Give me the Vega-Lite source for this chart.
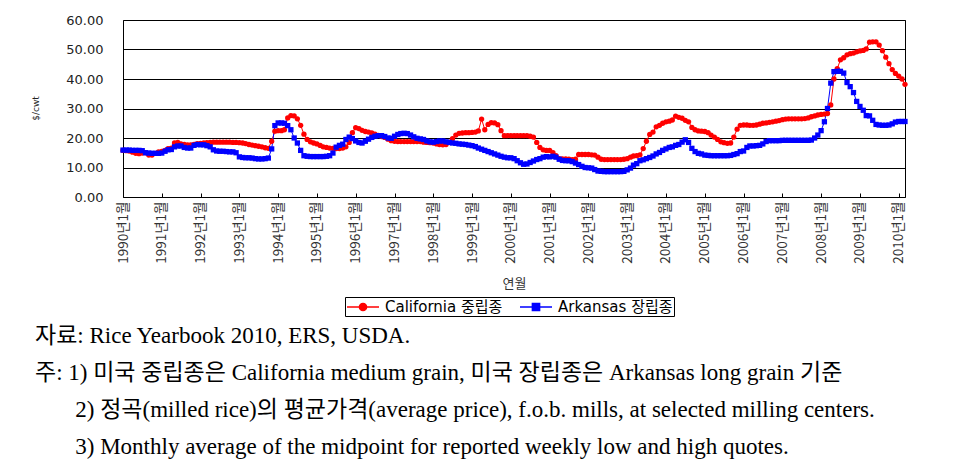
{
"$schema":"https://vega.github.io/schema/vega-lite/v6.json",
"width":782,"height":177,
"autosize":{"type":"none"},
"padding":{"left":123,"top":20,"right":54,"bottom":269},
"background":"white",
"config":{"view":{"stroke":"black","strokeWidth":1}},
"title":{"text":["자료: Rice Yearbook 2010, ERS, USDA.","주: 1) 미국 중립종은 California medium grain, 미국 장립종은 Arkansas long grain 기준","\u200b\u00a0\u00a0\u00a0\u00a0\u00a0\u00a0\u00a02) 정곡(milled rice)의 평균가격(average price), f.o.b. mills, at selected milling centers.","\u200b\u00a0\u00a0\u00a0\u00a0\u00a0\u00a0\u00a03) Monthly average of the midpoint for reported weekly low and high quotes."],
"orient":"bottom","anchor":"start","frame":"group","dx":-88,"offset":8,"font":"Liberation Serif, Noto Sans CJK KR","fontSize":23,"fontWeight":"normal","color":"black","lineHeight":37},
"data":{"values":[
{"month":"1990-01","series":"California 중립종","price":15.8},{"month":"1990-02","series":"California 중립종","price":15.7},{"month":"1990-03","series":"California 중립종","price":15.6},{"month":"1990-04","series":"California 중립종","price":15.2},{"month":"1990-05","series":"California 중립종","price":14.8},{"month":"1990-06","series":"California 중립종","price":14.7},{"month":"1990-07","series":"California 중립종","price":14.9},{"month":"1990-08","series":"California 중립종","price":15.0},{"month":"1990-09","series":"California 중립종","price":14.2},{"month":"1990-10","series":"California 중립종","price":14.2},{"month":"1990-11","series":"California 중립종","price":14.8},{"month":"1990-12","series":"California 중립종","price":15.3},
{"month":"1991-01","series":"California 중립종","price":15.5},{"month":"1991-02","series":"California 중립종","price":15.8},{"month":"1991-03","series":"California 중립종","price":16.4},{"month":"1991-04","series":"California 중립종","price":16.6},{"month":"1991-05","series":"California 중립종","price":18.3},{"month":"1991-06","series":"California 중립종","price":18.5},{"month":"1991-07","series":"California 중립종","price":18.0},{"month":"1991-08","series":"California 중립종","price":17.8},{"month":"1991-09","series":"California 중립종","price":17.7},{"month":"1991-10","series":"California 중립종","price":17.7},{"month":"1991-11","series":"California 중립종","price":17.8},{"month":"1991-12","series":"California 중립종","price":18.1},
{"month":"1992-01","series":"California 중립종","price":18.2},{"month":"1992-02","series":"California 중립종","price":18.3},{"month":"1992-03","series":"California 중립종","price":18.4},{"month":"1992-04","series":"California 중립종","price":18.5},{"month":"1992-05","series":"California 중립종","price":18.6},{"month":"1992-06","series":"California 중립종","price":18.6},{"month":"1992-07","series":"California 중립종","price":18.6},{"month":"1992-08","series":"California 중립종","price":18.6},{"month":"1992-09","series":"California 중립종","price":18.6},{"month":"1992-10","series":"California 중립종","price":18.6},{"month":"1992-11","series":"California 중립종","price":18.5},{"month":"1992-12","series":"California 중립종","price":18.5},
{"month":"1993-01","series":"California 중립종","price":18.4},{"month":"1993-02","series":"California 중립종","price":18.3},{"month":"1993-03","series":"California 중립종","price":18.1},{"month":"1993-04","series":"California 중립종","price":17.8},{"month":"1993-05","series":"California 중립종","price":17.6},{"month":"1993-06","series":"California 중립종","price":17.4},{"month":"1993-07","series":"California 중립종","price":17.2},{"month":"1993-08","series":"California 중립종","price":17.0},{"month":"1993-09","series":"California 중립종","price":16.7},{"month":"1993-10","series":"California 중립종","price":16.5},{"month":"1993-11","series":"California 중립종","price":18.9},{"month":"1993-12","series":"California 중립종","price":22.3},
{"month":"1994-01","series":"California 중립종","price":22.5},{"month":"1994-02","series":"California 중립종","price":22.5},{"month":"1994-03","series":"California 중립종","price":22.8},{"month":"1994-04","series":"California 중립종","price":26.8},{"month":"1994-05","series":"California 중립종","price":27.6},{"month":"1994-06","series":"California 중립종","price":27.5},{"month":"1994-07","series":"California 중립종","price":26.5},{"month":"1994-08","series":"California 중립종","price":24.3},{"month":"1994-09","series":"California 중립종","price":21.3},{"month":"1994-10","series":"California 중립종","price":19.5},{"month":"1994-11","series":"California 중립종","price":18.7},{"month":"1994-12","series":"California 중립종","price":18.3},
{"month":"1995-01","series":"California 중립종","price":18.0},{"month":"1995-02","series":"California 중립종","price":17.5},{"month":"1995-03","series":"California 중립종","price":17.0},{"month":"1995-04","series":"California 중립종","price":16.8},{"month":"1995-05","series":"California 중립종","price":16.6},{"month":"1995-06","series":"California 중립종","price":16.5},{"month":"1995-07","series":"California 중립종","price":16.4},{"month":"1995-08","series":"California 중립종","price":16.4},{"month":"1995-09","series":"California 중립종","price":16.6},{"month":"1995-10","series":"California 중립종","price":17.0},{"month":"1995-11","series":"California 중립종","price":18.5},{"month":"1995-12","series":"California 중립종","price":21.8},
{"month":"1996-01","series":"California 중립종","price":23.5},{"month":"1996-02","series":"California 중립종","price":23.2},{"month":"1996-03","series":"California 중립종","price":22.6},{"month":"1996-04","series":"California 중립종","price":22.2},{"month":"1996-05","series":"California 중립종","price":22.0},{"month":"1996-06","series":"California 중립종","price":21.7},{"month":"1996-07","series":"California 중립종","price":21.3},{"month":"1996-08","series":"California 중립종","price":20.9},{"month":"1996-09","series":"California 중립종","price":20.5},{"month":"1996-10","series":"California 중립종","price":20.2},{"month":"1996-11","series":"California 중립종","price":19.6},{"month":"1996-12","series":"California 중립종","price":19.1},
{"month":"1997-01","series":"California 중립종","price":18.9},{"month":"1997-02","series":"California 중립종","price":18.8},{"month":"1997-03","series":"California 중립종","price":18.8},{"month":"1997-04","series":"California 중립종","price":18.8},{"month":"1997-05","series":"California 중립종","price":18.8},{"month":"1997-06","series":"California 중립종","price":18.8},{"month":"1997-07","series":"California 중립종","price":18.8},{"month":"1997-08","series":"California 중립종","price":18.8},{"month":"1997-09","series":"California 중립종","price":18.8},{"month":"1997-10","series":"California 중립종","price":18.6},{"month":"1997-11","series":"California 중립종","price":18.5},{"month":"1997-12","series":"California 중립종","price":18.4},
{"month":"1998-01","series":"California 중립종","price":18.3},{"month":"1998-02","series":"California 중립종","price":18.0},{"month":"1998-03","series":"California 중립종","price":17.8},{"month":"1998-04","series":"California 중립종","price":17.7},{"month":"1998-05","series":"California 중립종","price":17.8},{"month":"1998-06","series":"California 중립종","price":18.6},{"month":"1998-07","series":"California 중립종","price":19.8},{"month":"1998-08","series":"California 중립종","price":21.0},{"month":"1998-09","series":"California 중립종","price":21.6},{"month":"1998-10","series":"California 중립종","price":21.7},{"month":"1998-11","series":"California 중립종","price":21.8},{"month":"1998-12","series":"California 중립종","price":21.8},
{"month":"1999-01","series":"California 중립종","price":21.9},{"month":"1999-02","series":"California 중립종","price":22.0},{"month":"1999-03","series":"California 중립종","price":22.4},{"month":"1999-04","series":"California 중립종","price":26.4},{"month":"1999-05","series":"California 중립종","price":22.8},{"month":"1999-06","series":"California 중립종","price":24.6},{"month":"1999-07","series":"California 중립종","price":25.2},{"month":"1999-08","series":"California 중립종","price":25.1},{"month":"1999-09","series":"California 중립종","price":24.5},{"month":"1999-10","series":"California 중립종","price":22.5},{"month":"1999-11","series":"California 중립종","price":20.8},{"month":"1999-12","series":"California 중립종","price":20.8},
{"month":"2000-01","series":"California 중립종","price":20.8},{"month":"2000-02","series":"California 중립종","price":20.8},{"month":"2000-03","series":"California 중립종","price":20.8},{"month":"2000-04","series":"California 중립종","price":20.8},{"month":"2000-05","series":"California 중립종","price":20.8},{"month":"2000-06","series":"California 중립종","price":20.8},{"month":"2000-07","series":"California 중립종","price":20.6},{"month":"2000-08","series":"California 중립종","price":20.3},{"month":"2000-09","series":"California 중립종","price":18.5},{"month":"2000-10","series":"California 중립종","price":16.8},{"month":"2000-11","series":"California 중립종","price":16.0},{"month":"2000-12","series":"California 중립종","price":15.8},
{"month":"2001-01","series":"California 중립종","price":15.8},{"month":"2001-02","series":"California 중립종","price":15.0},{"month":"2001-03","series":"California 중립종","price":14.0},{"month":"2001-04","series":"California 중립종","price":13.0},{"month":"2001-05","series":"California 중립종","price":12.9},{"month":"2001-06","series":"California 중립종","price":12.9},{"month":"2001-07","series":"California 중립종","price":12.8},{"month":"2001-08","series":"California 중립종","price":12.7},{"month":"2001-09","series":"California 중립종","price":12.8},{"month":"2001-10","series":"California 중립종","price":14.4},{"month":"2001-11","series":"California 중립종","price":14.4},{"month":"2001-12","series":"California 중립종","price":14.4},
{"month":"2002-01","series":"California 중립종","price":14.4},{"month":"2002-02","series":"California 중립종","price":14.3},{"month":"2002-03","series":"California 중립종","price":14.2},{"month":"2002-04","series":"California 중립종","price":13.5},{"month":"2002-05","series":"California 중립종","price":12.8},{"month":"2002-06","series":"California 중립종","price":12.7},{"month":"2002-07","series":"California 중립종","price":12.7},{"month":"2002-08","series":"California 중립종","price":12.7},{"month":"2002-09","series":"California 중립종","price":12.7},{"month":"2002-10","series":"California 중립종","price":12.7},{"month":"2002-11","series":"California 중립종","price":12.7},{"month":"2002-12","series":"California 중립종","price":12.8},
{"month":"2003-01","series":"California 중립종","price":13.0},{"month":"2003-02","series":"California 중립종","price":13.5},{"month":"2003-03","series":"California 중립종","price":13.9},{"month":"2003-04","series":"California 중립종","price":14.0},{"month":"2003-05","series":"California 중립종","price":14.3},{"month":"2003-06","series":"California 중립종","price":16.4},{"month":"2003-07","series":"California 중립종","price":18.9},{"month":"2003-08","series":"California 중립종","price":21.2},{"month":"2003-09","series":"California 중립종","price":22.0},{"month":"2003-10","series":"California 중립종","price":23.8},{"month":"2003-11","series":"California 중립종","price":24.3},{"month":"2003-12","series":"California 중립종","price":25.0},
{"month":"2004-01","series":"California 중립종","price":25.5},{"month":"2004-02","series":"California 중립종","price":25.7},{"month":"2004-03","series":"California 중립종","price":26.1},{"month":"2004-04","series":"California 중립종","price":27.4},{"month":"2004-05","series":"California 중립종","price":27.0},{"month":"2004-06","series":"California 중립종","price":26.7},{"month":"2004-07","series":"California 중립종","price":26.0},{"month":"2004-08","series":"California 중립종","price":25.5},{"month":"2004-09","series":"California 중립종","price":23.6},{"month":"2004-10","series":"California 중립종","price":22.8},{"month":"2004-11","series":"California 중립종","price":22.4},{"month":"2004-12","series":"California 중립종","price":22.3},
{"month":"2005-01","series":"California 중립종","price":22.2},{"month":"2005-02","series":"California 중립종","price":21.8},{"month":"2005-03","series":"California 중립종","price":21.0},{"month":"2005-04","series":"California 중립종","price":20.3},{"month":"2005-05","series":"California 중립종","price":19.5},{"month":"2005-06","series":"California 중립종","price":18.7},{"month":"2005-07","series":"California 중립종","price":18.4},{"month":"2005-08","series":"California 중립종","price":18.2},{"month":"2005-09","series":"California 중립종","price":18.3},{"month":"2005-10","series":"California 중립종","price":20.3},{"month":"2005-11","series":"California 중립종","price":23.0},{"month":"2005-12","series":"California 중립종","price":24.3},
{"month":"2006-01","series":"California 중립종","price":24.4},{"month":"2006-02","series":"California 중립종","price":24.4},{"month":"2006-03","series":"California 중립종","price":24.3},{"month":"2006-04","series":"California 중립종","price":24.3},{"month":"2006-05","series":"California 중립종","price":24.4},{"month":"2006-06","series":"California 중립종","price":24.7},{"month":"2006-07","series":"California 중립종","price":25.0},{"month":"2006-08","series":"California 중립종","price":25.1},{"month":"2006-09","series":"California 중립종","price":25.3},{"month":"2006-10","series":"California 중립종","price":25.5},{"month":"2006-11","series":"California 중립종","price":25.7},{"month":"2006-12","series":"California 중립종","price":25.9},
{"month":"2007-01","series":"California 중립종","price":26.2},{"month":"2007-02","series":"California 중립종","price":26.4},{"month":"2007-03","series":"California 중립종","price":26.5},{"month":"2007-04","series":"California 중립종","price":26.5},{"month":"2007-05","series":"California 중립종","price":26.5},{"month":"2007-06","series":"California 중립종","price":26.5},{"month":"2007-07","series":"California 중립종","price":26.5},{"month":"2007-08","series":"California 중립종","price":26.6},{"month":"2007-09","series":"California 중립종","price":26.8},{"month":"2007-10","series":"California 중립종","price":27.2},{"month":"2007-11","series":"California 중립종","price":27.5},{"month":"2007-12","series":"California 중립종","price":27.8},
{"month":"2008-01","series":"California 중립종","price":28.0},{"month":"2008-02","series":"California 중립종","price":28.1},{"month":"2008-03","series":"California 중립종","price":28.3},{"month":"2008-04","series":"California 중립종","price":31.2},{"month":"2008-05","series":"California 중립종","price":40.0},{"month":"2008-06","series":"California 중립종","price":43.5},{"month":"2008-07","series":"California 중립종","price":46.5},{"month":"2008-08","series":"California 중립종","price":47.2},{"month":"2008-09","series":"California 중립종","price":48.2},{"month":"2008-10","series":"California 중립종","price":48.6},{"month":"2008-11","series":"California 중립종","price":48.8},{"month":"2008-12","series":"California 중립종","price":49.2},
{"month":"2009-01","series":"California 중립종","price":49.5},{"month":"2009-02","series":"California 중립종","price":49.7},{"month":"2009-03","series":"California 중립종","price":50.2},{"month":"2009-04","series":"California 중립종","price":52.5},{"month":"2009-05","series":"California 중립종","price":52.6},{"month":"2009-06","series":"California 중립종","price":52.6},{"month":"2009-07","series":"California 중립종","price":51.5},{"month":"2009-08","series":"California 중립종","price":49.6},{"month":"2009-09","series":"California 중립종","price":47.4},{"month":"2009-10","series":"California 중립종","price":45.2},{"month":"2009-11","series":"California 중립종","price":43.2},{"month":"2009-12","series":"California 중립종","price":41.9},
{"month":"2010-01","series":"California 중립종","price":41.0},{"month":"2010-02","series":"California 중립종","price":40.0},{"month":"2010-03","series":"California 중립종","price":38.2},
{"month":"1990-01","series":"Arkansas 장립종","price":15.9},{"month":"1990-02","series":"Arkansas 장립종","price":15.9},{"month":"1990-03","series":"Arkansas 장립종","price":15.9},{"month":"1990-04","series":"Arkansas 장립종","price":15.8},{"month":"1990-05","series":"Arkansas 장립종","price":15.8},{"month":"1990-06","series":"Arkansas 장립종","price":15.8},{"month":"1990-07","series":"Arkansas 장립종","price":15.7},{"month":"1990-08","series":"Arkansas 장립종","price":15.0},{"month":"1990-09","series":"Arkansas 장립종","price":14.9},{"month":"1990-10","series":"Arkansas 장립종","price":14.8},{"month":"1990-11","series":"Arkansas 장립종","price":14.8},{"month":"1990-12","series":"Arkansas 장립종","price":14.8},
{"month":"1991-01","series":"Arkansas 장립종","price":14.9},{"month":"1991-02","series":"Arkansas 장립종","price":15.5},{"month":"1991-03","series":"Arkansas 장립종","price":16.0},{"month":"1991-04","series":"Arkansas 장립종","price":16.1},{"month":"1991-05","series":"Arkansas 장립종","price":17.0},{"month":"1991-06","series":"Arkansas 장립종","price":17.3},{"month":"1991-07","series":"Arkansas 장립종","price":17.3},{"month":"1991-08","series":"Arkansas 장립종","price":16.8},{"month":"1991-09","series":"Arkansas 장립종","price":16.6},{"month":"1991-10","series":"Arkansas 장립종","price":16.6},{"month":"1991-11","series":"Arkansas 장립종","price":17.5},{"month":"1991-12","series":"Arkansas 장립종","price":17.8},
{"month":"1992-01","series":"Arkansas 장립종","price":17.7},{"month":"1992-02","series":"Arkansas 장립종","price":17.7},{"month":"1992-03","series":"Arkansas 장립종","price":17.4},{"month":"1992-04","series":"Arkansas 장립종","price":17.0},{"month":"1992-05","series":"Arkansas 장립종","price":16.0},{"month":"1992-06","series":"Arkansas 장립종","price":15.6},{"month":"1992-07","series":"Arkansas 장립종","price":15.5},{"month":"1992-08","series":"Arkansas 장립종","price":15.5},{"month":"1992-09","series":"Arkansas 장립종","price":15.4},{"month":"1992-10","series":"Arkansas 장립종","price":15.3},{"month":"1992-11","series":"Arkansas 장립종","price":15.3},{"month":"1992-12","series":"Arkansas 장립종","price":15.0},
{"month":"1993-01","series":"Arkansas 장립종","price":13.6},{"month":"1993-02","series":"Arkansas 장립종","price":13.4},{"month":"1993-03","series":"Arkansas 장립종","price":13.3},{"month":"1993-04","series":"Arkansas 장립종","price":13.3},{"month":"1993-05","series":"Arkansas 장립종","price":13.2},{"month":"1993-06","series":"Arkansas 장립종","price":13.0},{"month":"1993-07","series":"Arkansas 장립종","price":12.9},{"month":"1993-08","series":"Arkansas 장립종","price":12.9},{"month":"1993-09","series":"Arkansas 장립종","price":13.0},{"month":"1993-10","series":"Arkansas 장립종","price":13.2},{"month":"1993-11","series":"Arkansas 장립종","price":16.3},{"month":"1993-12","series":"Arkansas 장립종","price":24.2},
{"month":"1994-01","series":"Arkansas 장립종","price":25.1},{"month":"1994-02","series":"Arkansas 장립종","price":25.1},{"month":"1994-03","series":"Arkansas 장립종","price":25.0},{"month":"1994-04","series":"Arkansas 장립종","price":24.2},{"month":"1994-05","series":"Arkansas 장립종","price":22.8},{"month":"1994-06","series":"Arkansas 장립종","price":20.0},{"month":"1994-07","series":"Arkansas 장립종","price":18.3},{"month":"1994-08","series":"Arkansas 장립종","price":15.8},{"month":"1994-09","series":"Arkansas 장립종","price":14.0},{"month":"1994-10","series":"Arkansas 장립종","price":13.8},{"month":"1994-11","series":"Arkansas 장립종","price":13.7},{"month":"1994-12","series":"Arkansas 장립종","price":13.7},
{"month":"1995-01","series":"Arkansas 장립종","price":13.7},{"month":"1995-02","series":"Arkansas 장립종","price":13.7},{"month":"1995-03","series":"Arkansas 장립종","price":13.7},{"month":"1995-04","series":"Arkansas 장립종","price":13.8},{"month":"1995-05","series":"Arkansas 장립종","price":14.0},{"month":"1995-06","series":"Arkansas 장립종","price":14.9},{"month":"1995-07","series":"Arkansas 장립종","price":16.9},{"month":"1995-08","series":"Arkansas 장립종","price":17.5},{"month":"1995-09","series":"Arkansas 장립종","price":17.9},{"month":"1995-10","series":"Arkansas 장립종","price":19.5},{"month":"1995-11","series":"Arkansas 장립종","price":20.3},{"month":"1995-12","series":"Arkansas 장립종","price":19.8},
{"month":"1996-01","series":"Arkansas 장립종","price":19.0},{"month":"1996-02","series":"Arkansas 장립종","price":18.5},{"month":"1996-03","series":"Arkansas 장립종","price":18.3},{"month":"1996-04","series":"Arkansas 장립종","price":18.9},{"month":"1996-05","series":"Arkansas 장립종","price":19.6},{"month":"1996-06","series":"Arkansas 장립종","price":20.2},{"month":"1996-07","series":"Arkansas 장립종","price":20.6},{"month":"1996-08","series":"Arkansas 장립종","price":20.8},{"month":"1996-09","series":"Arkansas 장립종","price":20.8},{"month":"1996-10","series":"Arkansas 장립종","price":20.5},{"month":"1996-11","series":"Arkansas 장립종","price":20.0},{"month":"1996-12","series":"Arkansas 장립종","price":19.9},
{"month":"1997-01","series":"Arkansas 장립종","price":20.6},{"month":"1997-02","series":"Arkansas 장립종","price":21.2},{"month":"1997-03","series":"Arkansas 장립종","price":21.5},{"month":"1997-04","series":"Arkansas 장립종","price":21.6},{"month":"1997-05","series":"Arkansas 장립종","price":21.5},{"month":"1997-06","series":"Arkansas 장립종","price":21.0},{"month":"1997-07","series":"Arkansas 장립종","price":20.4},{"month":"1997-08","series":"Arkansas 장립종","price":19.9},{"month":"1997-09","series":"Arkansas 장립종","price":19.7},{"month":"1997-10","series":"Arkansas 장립종","price":19.5},{"month":"1997-11","series":"Arkansas 장립종","price":19.0},{"month":"1997-12","series":"Arkansas 장립종","price":18.7},
{"month":"1998-01","series":"Arkansas 장립종","price":18.6},{"month":"1998-02","series":"Arkansas 장립종","price":18.8},{"month":"1998-03","series":"Arkansas 장립종","price":19.0},{"month":"1998-04","series":"Arkansas 장립종","price":19.0},{"month":"1998-05","series":"Arkansas 장립종","price":18.7},{"month":"1998-06","series":"Arkansas 장립종","price":18.5},{"month":"1998-07","series":"Arkansas 장립종","price":18.3},{"month":"1998-08","series":"Arkansas 장립종","price":18.2},{"month":"1998-09","series":"Arkansas 장립종","price":18.0},{"month":"1998-10","series":"Arkansas 장립종","price":17.9},{"month":"1998-11","series":"Arkansas 장립종","price":17.8},{"month":"1998-12","series":"Arkansas 장립종","price":17.6},
{"month":"1999-01","series":"Arkansas 장립종","price":17.4},{"month":"1999-02","series":"Arkansas 장립종","price":17.1},{"month":"1999-03","series":"Arkansas 장립종","price":16.6},{"month":"1999-04","series":"Arkansas 장립종","price":16.2},{"month":"1999-05","series":"Arkansas 장립종","price":15.8},{"month":"1999-06","series":"Arkansas 장립종","price":15.4},{"month":"1999-07","series":"Arkansas 장립종","price":15.0},{"month":"1999-08","series":"Arkansas 장립종","price":14.6},{"month":"1999-09","series":"Arkansas 장립종","price":14.2},{"month":"1999-10","series":"Arkansas 장립종","price":13.8},{"month":"1999-11","series":"Arkansas 장립종","price":13.5},{"month":"1999-12","series":"Arkansas 장립종","price":13.3},
{"month":"2000-01","series":"Arkansas 장립종","price":13.3},{"month":"2000-02","series":"Arkansas 장립종","price":13.0},{"month":"2000-03","series":"Arkansas 장립종","price":12.3},{"month":"2000-04","series":"Arkansas 장립종","price":11.6},{"month":"2000-05","series":"Arkansas 장립종","price":11.1},{"month":"2000-06","series":"Arkansas 장립종","price":11.2},{"month":"2000-07","series":"Arkansas 장립종","price":11.7},{"month":"2000-08","series":"Arkansas 장립종","price":12.2},{"month":"2000-09","series":"Arkansas 장립종","price":12.7},{"month":"2000-10","series":"Arkansas 장립종","price":13.0},{"month":"2000-11","series":"Arkansas 장립종","price":13.5},{"month":"2000-12","series":"Arkansas 장립종","price":13.7},
{"month":"2001-01","series":"Arkansas 장립종","price":13.6},{"month":"2001-02","series":"Arkansas 장립종","price":13.8},{"month":"2001-03","series":"Arkansas 장립종","price":13.5},{"month":"2001-04","series":"Arkansas 장립종","price":12.8},{"month":"2001-05","series":"Arkansas 장립종","price":12.4},{"month":"2001-06","series":"Arkansas 장립종","price":12.3},{"month":"2001-07","series":"Arkansas 장립종","price":12.3},{"month":"2001-08","series":"Arkansas 장립종","price":12.0},{"month":"2001-09","series":"Arkansas 장립종","price":11.5},{"month":"2001-10","series":"Arkansas 장립종","price":11.0},{"month":"2001-11","series":"Arkansas 장립종","price":10.4},{"month":"2001-12","series":"Arkansas 장립종","price":10.0},
{"month":"2002-01","series":"Arkansas 장립종","price":9.9},{"month":"2002-02","series":"Arkansas 장립종","price":9.8},{"month":"2002-03","series":"Arkansas 장립종","price":9.3},{"month":"2002-04","series":"Arkansas 장립종","price":8.8},{"month":"2002-05","series":"Arkansas 장립종","price":8.7},{"month":"2002-06","series":"Arkansas 장립종","price":8.6},{"month":"2002-07","series":"Arkansas 장립종","price":8.6},{"month":"2002-08","series":"Arkansas 장립종","price":8.6},{"month":"2002-09","series":"Arkansas 장립종","price":8.6},{"month":"2002-10","series":"Arkansas 장립종","price":8.6},{"month":"2002-11","series":"Arkansas 장립종","price":8.6},{"month":"2002-12","series":"Arkansas 장립종","price":8.7},
{"month":"2003-01","series":"Arkansas 장립종","price":9.2},{"month":"2003-02","series":"Arkansas 장립종","price":9.8},{"month":"2003-03","series":"Arkansas 장립종","price":10.8},{"month":"2003-04","series":"Arkansas 장립종","price":11.3},{"month":"2003-05","series":"Arkansas 장립종","price":12.3},{"month":"2003-06","series":"Arkansas 장립종","price":12.6},{"month":"2003-07","series":"Arkansas 장립종","price":13.0},{"month":"2003-08","series":"Arkansas 장립종","price":13.4},{"month":"2003-09","series":"Arkansas 장립종","price":13.9},{"month":"2003-10","series":"Arkansas 장립종","price":14.6},{"month":"2003-11","series":"Arkansas 장립종","price":15.1},{"month":"2003-12","series":"Arkansas 장립종","price":15.8},
{"month":"2004-01","series":"Arkansas 장립종","price":16.3},{"month":"2004-02","series":"Arkansas 장립종","price":16.8},{"month":"2004-03","series":"Arkansas 장립종","price":17.0},{"month":"2004-04","series":"Arkansas 장립종","price":17.5},{"month":"2004-05","series":"Arkansas 장립종","price":17.8},{"month":"2004-06","series":"Arkansas 장립종","price":18.6},{"month":"2004-07","series":"Arkansas 장립종","price":19.4},{"month":"2004-08","series":"Arkansas 장립종","price":18.5},{"month":"2004-09","series":"Arkansas 장립종","price":16.5},{"month":"2004-10","series":"Arkansas 장립종","price":15.4},{"month":"2004-11","series":"Arkansas 장립종","price":14.8},{"month":"2004-12","series":"Arkansas 장립종","price":14.6},
{"month":"2005-01","series":"Arkansas 장립종","price":14.2},{"month":"2005-02","series":"Arkansas 장립종","price":14.1},{"month":"2005-03","series":"Arkansas 장립종","price":14.0},{"month":"2005-04","series":"Arkansas 장립종","price":14.0},{"month":"2005-05","series":"Arkansas 장립종","price":14.0},{"month":"2005-06","series":"Arkansas 장립종","price":14.0},{"month":"2005-07","series":"Arkansas 장립종","price":14.0},{"month":"2005-08","series":"Arkansas 장립종","price":14.0},{"month":"2005-09","series":"Arkansas 장립종","price":14.1},{"month":"2005-10","series":"Arkansas 장립종","price":14.4},{"month":"2005-11","series":"Arkansas 장립종","price":14.7},{"month":"2005-12","series":"Arkansas 장립종","price":15.4},
{"month":"2006-01","series":"Arkansas 장립종","price":15.6},{"month":"2006-02","series":"Arkansas 장립종","price":16.8},{"month":"2006-03","series":"Arkansas 장립종","price":17.3},{"month":"2006-04","series":"Arkansas 장립종","price":17.3},{"month":"2006-05","series":"Arkansas 장립종","price":17.4},{"month":"2006-06","series":"Arkansas 장립종","price":17.5},{"month":"2006-07","series":"Arkansas 장립종","price":18.0},{"month":"2006-08","series":"Arkansas 장립종","price":18.8},{"month":"2006-09","series":"Arkansas 장립종","price":19.1},{"month":"2006-10","series":"Arkansas 장립종","price":19.1},{"month":"2006-11","series":"Arkansas 장립종","price":19.1},{"month":"2006-12","series":"Arkansas 장립종","price":19.1},
{"month":"2007-01","series":"Arkansas 장립종","price":19.2},{"month":"2007-02","series":"Arkansas 장립종","price":19.2},{"month":"2007-03","series":"Arkansas 장립종","price":19.2},{"month":"2007-04","series":"Arkansas 장립종","price":19.2},{"month":"2007-05","series":"Arkansas 장립종","price":19.2},{"month":"2007-06","series":"Arkansas 장립종","price":19.2},{"month":"2007-07","series":"Arkansas 장립종","price":19.2},{"month":"2007-08","series":"Arkansas 장립종","price":19.2},{"month":"2007-09","series":"Arkansas 장립종","price":19.2},{"month":"2007-10","series":"Arkansas 장립종","price":19.3},{"month":"2007-11","series":"Arkansas 장립종","price":20.0},{"month":"2007-12","series":"Arkansas 장립종","price":21.0},
{"month":"2008-01","series":"Arkansas 장립종","price":22.5},{"month":"2008-02","series":"Arkansas 장립종","price":25.5},{"month":"2008-03","series":"Arkansas 장립종","price":30.0},{"month":"2008-04","series":"Arkansas 장립종","price":38.6},{"month":"2008-05","series":"Arkansas 장립종","price":42.5},{"month":"2008-06","series":"Arkansas 장립종","price":42.6},{"month":"2008-07","series":"Arkansas 장립종","price":42.6},{"month":"2008-08","series":"Arkansas 장립종","price":42.0},{"month":"2008-09","series":"Arkansas 장립종","price":38.8},{"month":"2008-10","series":"Arkansas 장립종","price":37.4},{"month":"2008-11","series":"Arkansas 장립종","price":35.4},{"month":"2008-12","series":"Arkansas 장립종","price":32.4},
{"month":"2009-01","series":"Arkansas 장립종","price":30.7},{"month":"2009-02","series":"Arkansas 장립종","price":29.4},{"month":"2009-03","series":"Arkansas 장립종","price":27.6},{"month":"2009-04","series":"Arkansas 장립종","price":27.5},{"month":"2009-05","series":"Arkansas 장립종","price":26.0},{"month":"2009-06","series":"Arkansas 장립종","price":24.6},{"month":"2009-07","series":"Arkansas 장립종","price":24.4},{"month":"2009-08","series":"Arkansas 장립종","price":24.3},{"month":"2009-09","series":"Arkansas 장립종","price":24.3},{"month":"2009-10","series":"Arkansas 장립종","price":24.4},{"month":"2009-11","series":"Arkansas 장립종","price":24.8},{"month":"2009-12","series":"Arkansas 장립종","price":25.4},
{"month":"2010-01","series":"Arkansas 장립종","price":25.6},{"month":"2010-02","series":"Arkansas 장립종","price":25.6},{"month":"2010-03","series":"Arkansas 장립종","price":25.6}
]},
"encoding":{
"x":{"field":"month","type":"temporal","scale":{"type":"utc","domain":[{"year":1990,"month":1,"date":1,"utc":true},{"year":2010,"month":3,"date":1,"utc":true}]},
"axis":{"title":"연월","format":"%Y년%-m월","tickCount":{"interval":"year","step":1},"labelAngle":270,"labelAlign":"right","labelBaseline":"middle","labelPadding":8,"ticks":true,"tickSize":-4,"tickColor":"black","domain":false,"grid":false,"labelOverlap":false,"labelFlush":false,"labelBound":false,"labelFont":"Noto Sans CJK KR","labelFontSize":13.5,"labelColor":"#333","titleFont":"Noto Sans CJK KR","titleFontSize":13,"titleFontWeight":"normal","titleColor":"#333","titleY":80,"titleBaseline":"top"}},
"y":{"field":"price","type":"quantitative","scale":{"domain":[0,60]},
"axis":{"title":"$/cwt","values":[0,10,20,30,40,50,60],"format":".2f","grid":true,"gridColor":"black","gridOpacity":1,"gridWidth":1,"ticks":false,"domain":false,"labelPadding":20,"labelFont":"DejaVu Sans","labelFontSize":13,"labelColor":"#222","titleFont":"DejaVu Sans","titleFontSize":9,"titleFontWeight":"normal","titleColor":"#222","titleX":-88,"titleY":88,"titleAngle":-90,"titleAlign":"center","titleBaseline":"middle"}}
},
"layer":[
{"mark":{"type":"line","strokeWidth":1},
 "encoding":{"color":{"field":"series","type":"nominal","sort":null,"scale":{"domain":["California 중립종","Arkansas 장립종"],"range":["#FF0000","#0000FF"]},"legend":null}}},
{"mark":{"type":"point","filled":true,"size":28,"opacity":1},
 "encoding":{"color":{"field":"series","type":"nominal","scale":{"domain":["California 중립종","Arkansas 장립종"],"range":["#FF0000","#0000FF"]},"legend":null},
 "shape":{"field":"series","type":"nominal","scale":{"domain":["California 중립종","Arkansas 장립종"],"range":["circle","square"]},"legend":null}}},
{"transform":[{"filter":"false"}],
 "mark":{"type":"point","filled":true,"opacity":1,"strokeWidth":1.5},
 "encoding":{
 "color":{"field":"series","type":"nominal","scale":{"domain":["California 중립종","Arkansas 장립종"],"range":["#FF0000","#0000FF"]},"legend":{"title":null,"orient":"none","legendX":222,"legendY":277,"direction":"horizontal","strokeColor":"black","padding":1,"symbolSize":256,"symbolStrokeWidth":1.5,"labelFont":"DejaVu Sans, Noto Sans CJK KR","labelFontSize":15,"labelColor":"black","labelOffset":21,"columnPadding":14}},
 "stroke":{"field":"series","type":"nominal","scale":{"domain":["California 중립종","Arkansas 장립종"],"range":["#FF0000","#0000FF"]},"legend":{"title":null,"orient":"none","legendX":222,"legendY":277,"direction":"horizontal","strokeColor":"black","padding":1,"symbolSize":256,"symbolStrokeWidth":1.5,"labelFont":"DejaVu Sans, Noto Sans CJK KR","labelFontSize":15,"labelColor":"black","labelOffset":21,"columnPadding":14}},
 "shape":{"field":"series","type":"nominal","scale":{"domain":["California 중립종","Arkansas 장립종"],"range":["M-1,0H3M1.45,0A0.45,0.45,0,1,1,0.55,0A0.45,0.45,0,1,1,1.45,0Z","M-1,0H3M0.55,-0.45H1.45V0.45H0.55Z"]},"legend":{"title":null,"orient":"none","legendX":222,"legendY":277,"direction":"horizontal","strokeColor":"black","padding":1,"symbolSize":256,"symbolStrokeWidth":1.5,"labelFont":"DejaVu Sans, Noto Sans CJK KR","labelFontSize":15,"labelColor":"black","labelOffset":21,"columnPadding":14}}}}
],
"resolve":{"scale":{"color":"independent","shape":"independent","stroke":"independent"}}
}
